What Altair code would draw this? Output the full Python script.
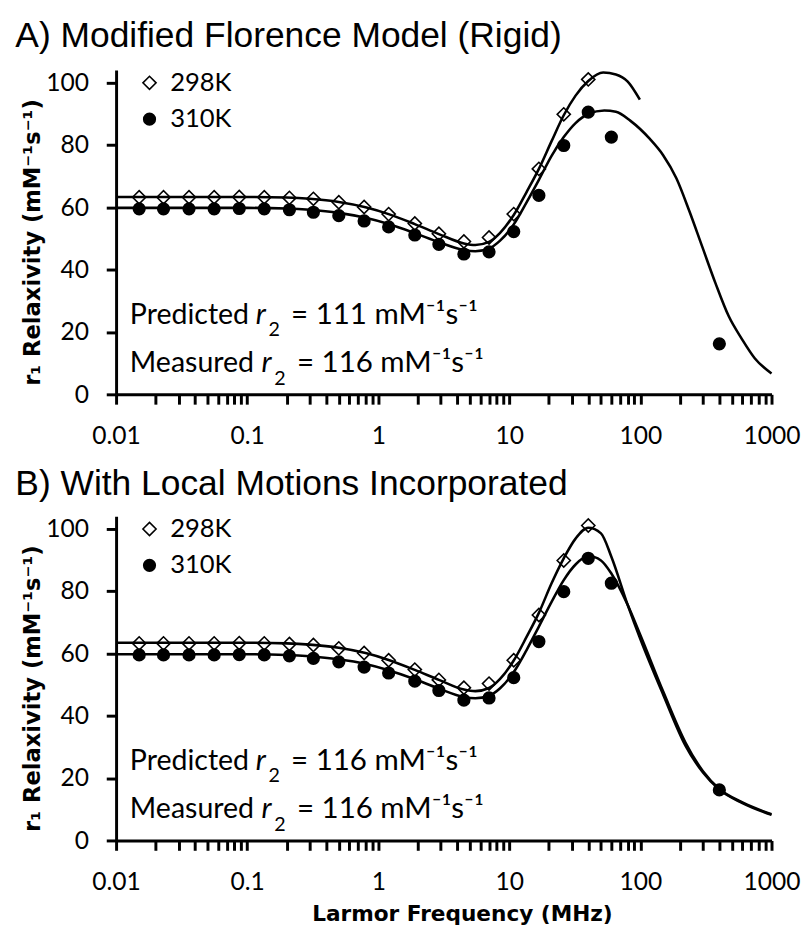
import altair as alt
import pandas as pd

FONT = "Lato"
TITLE_FONT = "Liberation Sans"
AXT_FONT = "DejaVu Sans"

# ---- measured data (same in both panels) ----
freq_298 = [0.015, 0.023, 0.036, 0.056, 0.087, 0.135, 0.21, 0.32, 0.50, 0.78,
            1.2, 1.9, 2.9, 4.5, 7.0, 10.8, 16.8, 26, 40]
r1_298 = [63.2, 63.2, 63.2, 63.2, 63.3, 63.2, 63.0, 62.7, 61.6, 60.1,
          57.8, 54.8, 51.5, 49.0, 50.3, 57.8, 72.3, 89.8, 101.0]
freq_310 = [0.015, 0.023, 0.036, 0.056, 0.087, 0.135, 0.21, 0.32, 0.50, 0.78,
            1.2, 1.9, 2.9, 4.5, 7.0, 10.8, 16.8, 26, 40, 60, 400]
r1_310 = [59.5, 59.5, 59.5, 59.5, 59.6, 59.5, 59.2, 58.4, 57.3, 55.6,
          53.7, 51.1, 48.1, 45.0, 45.7, 52.2, 63.8, 79.8, 90.5, 82.5, 16.2]

# ---- fitted curves, panel A (rigid) ----
fitA_f298 = [0.01, 0.05, 0.1, 0.2, 0.3, 0.5, 0.8, 1.2, 1.9, 2.9, 4.5, 5.5, 7, 8.5,
             10.8, 13.5, 16.8, 21, 26, 32, 40, 52, 65, 80, 99]
fitA_298 = [63.3, 63.3, 63.3, 63.1, 62.7, 61.7, 60.0, 57.8, 54.6, 51.4, 48.4, 47.9, 48.9, 51.8,
            57.5, 64.8, 72.3, 81.2, 89.5, 95.8, 100.5, 103.2, 102.6, 100.3, 94.5]
fitA_f310 = [0.01, 0.05, 0.1, 0.2, 0.3, 0.5, 0.8, 1.2, 1.9, 2.9, 4.5, 5.5, 7, 8.5,
             10.8, 13.5, 16.8, 21, 26, 32, 40, 53, 65, 84, 118, 149, 188, 236, 297, 374,
             471, 593, 747, 1000]
fitA_310 = [59.8, 59.8, 59.8, 59.6, 59.2, 58.2, 56.6, 54.6, 51.7, 48.8, 46.3, 45.9, 46.8, 49.3,
            54.5, 61.5, 68.8, 76.5, 82.5, 87.0, 89.9, 91.0, 90.6, 87.7, 81.9, 76.7, 69.3, 58.8,
            47.2, 35.6, 25.1, 17.8, 11.5, 6.7]

# ---- fitted curves, panel B (local motions) ----
fitB_f = [0.01, 0.05, 0.1, 0.2, 0.3, 0.5, 0.8, 1.2, 1.9, 2.9, 4.5, 5.5, 7, 8.5,
          10.8, 13.5, 16.8, 21, 26, 32, 40, 50, 60, 80, 100, 150, 220, 300, 400, 600, 1000]
fitB_298 = [63.4, 63.4, 63.4, 63.2, 62.8, 61.8, 60.1, 57.9, 54.7, 51.5, 48.4, 47.9, 48.9, 51.8,
            57.7, 65.2, 73.0, 82.5, 90.5, 96.8, 100.3, 98.5, 91.0, 75.5, 64.5, 46.5, 30.5, 21.8,
            16.3, 12.0, 8.2]
fitB_310 = [59.7, 59.7, 59.7, 59.5, 59.1, 58.1, 56.6, 54.6, 51.7, 48.7, 46.0, 45.6, 46.4, 48.8,
            54.0, 61.0, 68.6, 76.5, 83.5, 88.5, 91.2, 89.8, 85.6, 75.5, 65.8, 47.5, 31.5, 22.2,
            16.5, 12.2, 8.4]

series = ["298K", "310K"]
titles = ["A) Modified Florence Model (Rigid)", "B) With Local Motions Incorporated"]
predicted = ["111", "116"]
measured = "116"
x_labels = ["0.01", "0.1", "1", "10", "100", "1000"]
y_ticks = [0, 20, 40, 60, 80, 100]
x_ticks = [0.01, 0.02, 0.03, 0.04, 0.05, 0.06, 0.07, 0.08, 0.09,
           0.1, 0.2, 0.3, 0.4, 0.5, 0.6, 0.7, 0.8, 0.9,
           1, 2, 3, 4, 5, 6, 7, 8, 9,
           10, 20, 30, 40, 50, 60, 70, 80, 90,
           100, 200, 300, 400, 500, 600, 700, 800, 900, 1000]

W, H = 667, 330
ONE = pd.DataFrame({"k": [0]})

LEG = dict(title=None, orient="none", legendX=21, legendY=0, padding=0,
           labelFont=FONT, labelFontSize=26, labelColor="black", labelOffset=8,
           rowPadding=11, symbolStrokeWidth=1.6)


def label_text(word, value, base, shift):
    common = dict(align="left", baseline="alphabetic", font=FONT, color="black")
    a = alt.Chart(ONE).mark_text(fontSize=29, **common).encode(
        x=alt.value(14), y=alt.value(base), text=alt.value(word))
    r = alt.Chart(ONE).mark_text(fontSize=30, fontStyle="italic", **common).encode(
        x=alt.value(142 + shift), y=alt.value(base), text=alt.value("r"))
    s = alt.Chart(ONE).mark_text(fontSize=20, **common).encode(
        x=alt.value(155 + shift), y=alt.value(base + 13), text=alt.value("2"))
    b = alt.Chart(ONE).mark_text(fontSize=30, **common).encode(
        x=alt.value(178 + shift), y=alt.value(base),
        text=alt.value("= " + value + " mM\u207b\u00b9s\u207b\u00b9"))
    return [a, r, s, b]


def panel(idx, fit298_f, fit298, fit310_f, fit310, show_xtitle):
    pts = pd.DataFrame({
        "freq": freq_298 + freq_310,
        "r1": r1_298 + r1_310,
        "temp": [series[0]] * len(freq_298) + [series[1]] * len(freq_310),
    })
    fits = pd.DataFrame({
        "freq": fit298_f + fit310_f,
        "r1": fit298 + fit310,
        "temp": [series[0]] * len(fit298_f) + [series[1]] * len(fit310_f),
    })
    labexpr = "indexof(" + str(x_labels) + ", datum.label) >= 0 ? datum.label : ''"
    xaxis = dict(values=x_ticks, format="~g", labelExpr=labexpr, labelFlush=False,
                 labelOverlap=False, tickSize=10, labelPadding=20)
    if show_xtitle:
        xaxis.update(title="Larmor Frequency (MHz)", titleFont=AXT_FONT, titleFontSize=22,
                     titleFontWeight="bold", titlePadding=9, titleX=352)
    else:
        xaxis.update(title=None)
    x = alt.X("freq:Q", scale=alt.Scale(type="log", domain=[0.01, 1000], nice=False),
              axis=alt.Axis(**xaxis))
    y = alt.Y("r1:Q",
              scale=alt.Scale(domain=[0, 104], nice=False, zero=True),
              axis=alt.Axis(values=y_ticks, tickSize=10, labelPadding=18,
                            title="r\u2081 Relaxivity (mM\u207b\u00b9s\u207b\u00b9)",
                            titleFont=AXT_FONT, titleFontSize=23, titleFontWeight="bold",
                            titlePadding=1, titleY=175))
    points = alt.Chart(pts).mark_point(filled=True, opacity=1).encode(
        x=x, y=y,
        shape=alt.Shape("temp:N", scale=alt.Scale(domain=series, range=["diamond", "circle"]),
                        legend=alt.Legend(**LEG)),
        fill=alt.Fill("temp:N", scale=alt.Scale(domain=series, range=["white", "black"]),
                      legend=alt.Legend(**LEG)),
        stroke=alt.Stroke("temp:N", scale=alt.Scale(domain=series, range=["black", "black"]),
                          legend=alt.Legend(**LEG)),
        size=alt.Size("temp:N", scale=alt.Scale(domain=series, range=[180, 140]),
                      legend=alt.Legend(**LEG)),
        strokeWidth=alt.value(1.6),
    )
    lines = alt.Chart(fits).mark_line(color="black", strokeWidth=2.6, interpolate="monotone").encode(
        x="freq:Q", y="r1:Q", detail="temp:N")
    texts = (label_text("Predicted", predicted[idx], 258, 0)
             + label_text("Measured", measured, 307, 6))
    return alt.layer(points, lines, *texts).properties(
        width=W, height=H,
        title=alt.TitleParams(titles[idx], anchor="start", frame="bounds", font=TITLE_FONT,
                              fontSize=36, fontWeight="normal", color="black", offset=13, dx=-7))


top = panel(0, fitA_f298, fitA_298, fitA_f310, fitA_310, False)
bot = panel(1, fitB_f, fitB_298, fitB_f, fitB_310, True)

chart = alt.vconcat(top, bot, spacing=18).resolve_scale(
    shape="independent", fill="independent", size="independent", stroke="independent",
    y="independent"
).properties(padding={"left": 7, "top": 2, "right": 0, "bottom": 0}).configure_view(
    stroke=None
).configure_axis(
    grid=False, domainColor="black", domainWidth=3, tickColor="black", tickWidth=3,
    labelColor="black", labelFont=FONT, labelFontSize=25, titleColor="black"
)

chart.save("out.html", embed_options={"renderer": "svg", "actions": False})
